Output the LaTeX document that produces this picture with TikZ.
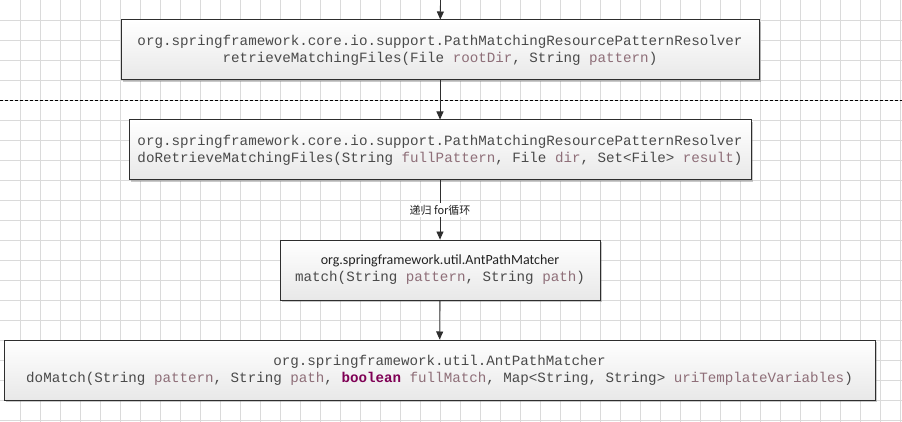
\documentclass[tikz,border=0pt]{standalone}
\usepackage{fontspec}
\setmainfont{Carlito}
\setmonofont{Liberation Mono}
\newfontfamily\cjk{Noto Sans CJK SC}
\definecolor{txt}{HTML}{4A4A4A}
\definecolor{txtd}{HTML}{222222}
\definecolor{param}{HTML}{8E6E78}
\definecolor{kw}{HTML}{7F0055}
\definecolor{gridc}{HTML}{DADADA}
\definecolor{edge}{HTML}{2E2E2E}
\usetikzlibrary{arrows.meta,shadows}
\newcommand{\pv}[1]{\textcolor{param}{#1}}

\begin{document}
\begin{tikzpicture}[x=1pt, y=-1pt,
  bx/.style={rectangle, draw=edge, line width=1pt, minimum height=60pt, inner sep=0pt,
             top color=white, bottom color=black!9, text=txt,
             font=\fontsize{14.2}{17}\selectfont\ttfamily,
             drop shadow={shadow xshift=2.2pt, shadow yshift=-2.2pt, opacity=0.35, fill=black!60}},
  ar/.style={-{Triangle[width=7pt, length=8pt]}, line width=0.9pt, color=edge},
]
\useasboundingbox (0,0) rectangle (902,422);
\fill[white] (0,0) rectangle (902,422);
\foreach \gx in {20,40,...,900} \draw[gridc, line width=0.8pt] (\gx,0) -- (\gx,422);
\foreach \gy in {20,40,...,420} \draw[gridc, line width=0.8pt] (0,\gy) -- (902,\gy);
\draw[black, line width=0.9pt, dash pattern=on 3pt off 2pt] (0,100) -- (902,100);

\coordinate (top) at (440.5,0);
\node[bx, minimum width=638pt, align=center] (rm) at (440,50)
  {org.springframework.core.io.support.PathMatchingResourcePatternResolver\\
   retrieveMatchingFiles(File \pv{rootDir}, String \pv{pattern})};
\node[bx, minimum width=622pt, align=left] (drm) at (440,150)
  {org.springframework.core.io.support.PathMatchingResourcePatternResolver\\
   doRetrieveMatchingFiles(String \pv{fullPattern}, File \pv{dir}, Set<File> \pv{result})};
\node[bx, minimum width=320pt, align=center] (mt) at (440,270)
  {{\rmfamily\fontsize{14}{17}\selectfont\color{txtd}org.springframework.util.AntPathMatcher}\\
   match(String \pv{pattern}, String \pv{path})};
\node[bx, minimum width=871pt, align=center] (dm) at (439.5,370)
  {org.springframework.util.AntPathMatcher\\
   doMatch(String \pv{pattern}, String \pv{path}, \textcolor{kw}{\textbf{boolean}} \pv{fullMatch}, Map<String, String> \pv{uriTemplateVariables})};

\draw[ar] (top)--(rm); \draw[ar] (rm)--(drm); \draw[ar] (mt)--(dm);
\draw[ar] (drm)-- node[fill=white, inner sep=1.5pt, text=txtd, font=\cjk\fontsize{11}{13}\selectfont] (lbl) {递归 for循环} (mt);
\end{tikzpicture}
\end{document}
